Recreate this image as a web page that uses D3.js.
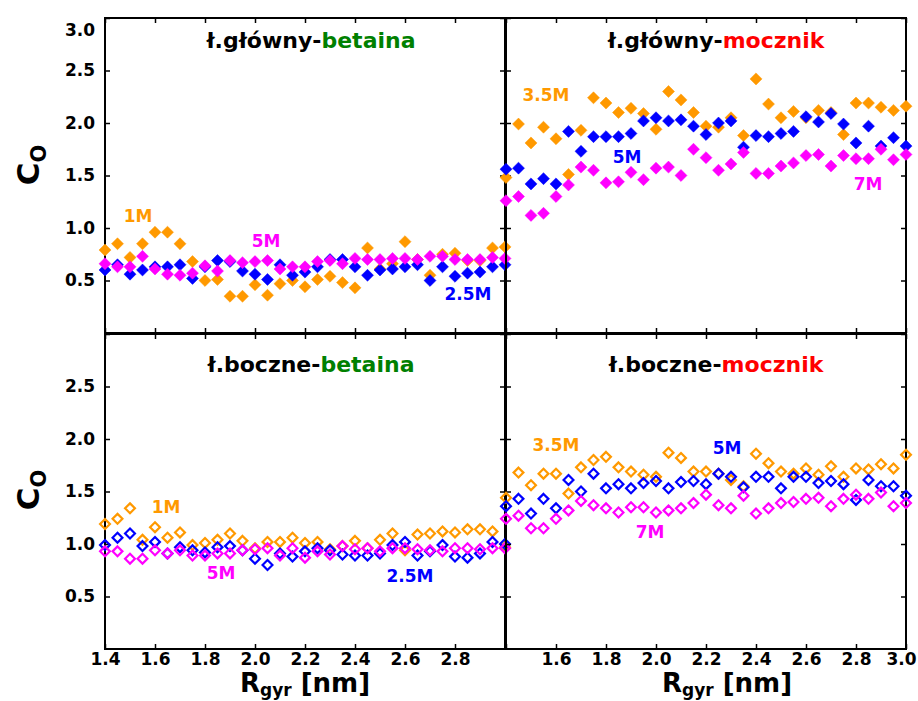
<!DOCTYPE html>
<html>
<head>
<meta charset="utf-8">
<script src="https://cdn.jsdelivr.net/npm/d3@7"></script>
<style>
body{margin:0;background:#fff;}
svg{display:block;font-family:"DejaVu Sans",sans-serif;font-weight:bold;}
</style>
</head>
<body>
<svg id="chart" width="918" height="701"></svg>
<script>
const rgyr = [1.40,1.45,1.50,1.55,1.60,1.65,1.70,1.75,1.80,1.85,1.90,1.95,2.00,2.05,2.10,2.15,2.20,2.25,2.30,2.35,2.40,2.45,2.50,2.55,2.60,2.65,2.70,2.75,2.80,2.85,2.90,2.95,3.00];

// ł.główny-betaina
const glBetOrange  = [0.79,0.85,0.72,0.85,0.96,0.96,0.85,0.68,0.50,0.51,0.35,0.35,0.46,0.36,0.47,0.50,0.44,0.51,0.54,0.48,0.43,0.81,0.61,0.66,0.87,0.70,0.55,0.75,0.76,0.69,0.69,0.81,0.82];
const glBetBlue    = [0.60,0.65,0.56,0.60,0.63,0.63,0.65,0.52,0.63,0.69,0.68,0.59,0.56,0.51,0.65,0.55,0.58,0.63,0.70,0.70,0.63,0.55,0.60,0.61,0.63,0.65,0.50,0.63,0.54,0.57,0.58,0.63,0.65];
const glBetMagenta = [0.66,0.63,0.63,0.73,0.61,0.56,0.55,0.57,0.64,0.59,0.69,0.67,0.68,0.69,0.61,0.63,0.63,0.68,0.69,0.66,0.71,0.70,0.70,0.71,0.71,0.70,0.73,0.73,0.70,0.70,0.70,0.72,0.71];

// ł.główny-mocznik
const glMocOrange  = [1.48,1.99,1.81,1.96,1.85,1.51,1.93,2.24,2.19,2.10,2.14,2.09,1.94,2.30,2.22,2.10,1.97,1.96,2.05,1.88,2.42,2.18,2.05,2.11,2.05,2.12,2.10,1.89,2.19,2.19,2.15,2.12,2.16];
const glMocBlue    = [1.56,1.57,1.42,1.47,1.42,1.92,1.73,1.87,1.87,1.87,1.90,2.02,2.05,2.02,2.03,1.97,1.89,2.00,2.02,1.77,1.88,1.87,1.90,1.92,2.06,2.01,2.09,1.99,1.81,1.97,1.78,1.86,1.78];
const glMocMagenta = [1.26,1.30,1.12,1.14,1.30,1.41,1.58,1.55,1.43,1.44,1.53,1.46,1.57,1.58,1.50,1.75,1.67,1.55,1.61,1.72,1.52,1.52,1.59,1.62,1.69,1.70,1.59,1.69,1.66,1.66,1.75,1.65,1.70];

// ł.boczne-betaina
const bcBetOrange  = [1.19,1.24,1.34,1.04,1.16,1.06,1.11,0.99,1.01,1.04,1.10,1.03,0.96,1.02,1.02,1.06,1.01,1.02,0.95,0.98,1.03,0.96,1.04,1.10,0.94,1.09,1.10,1.12,1.11,1.14,1.14,1.12,0.97];
const bcBetBlue    = [0.99,1.06,1.10,0.98,1.02,0.91,0.97,0.94,0.92,0.97,0.98,0.94,0.86,0.80,0.91,0.88,0.93,0.96,0.94,0.90,0.89,0.89,0.91,0.99,1.02,0.89,0.93,0.99,0.88,0.87,0.91,1.02,1.00];
const bcBetMagenta = [0.93,0.93,0.86,0.86,0.94,0.91,0.94,0.89,0.89,0.91,0.91,0.94,0.95,0.96,0.89,0.96,0.87,0.93,0.90,0.98,0.95,0.96,0.93,0.96,0.96,0.95,0.94,0.93,0.96,0.96,0.95,0.96,0.96];

// ł.boczne-mocznik
const bcMocOrange  = [1.44,1.68,1.56,1.67,1.67,1.48,1.73,1.80,1.83,1.73,1.69,1.66,1.64,1.87,1.82,1.69,1.69,1.67,1.61,1.55,1.86,1.77,1.69,1.67,1.72,1.66,1.74,1.64,1.72,1.71,1.76,1.72,1.85];
const bcMocBlue    = [1.36,1.43,1.29,1.43,1.34,1.61,1.50,1.67,1.53,1.57,1.53,1.58,1.60,1.53,1.59,1.60,1.57,1.67,1.64,1.54,1.64,1.64,1.53,1.64,1.64,1.58,1.60,1.57,1.42,1.61,1.55,1.55,1.46];
const bcMocMagenta = [1.24,1.27,1.15,1.15,1.24,1.32,1.41,1.37,1.34,1.30,1.35,1.35,1.30,1.32,1.34,1.39,1.47,1.37,1.34,1.46,1.29,1.34,1.39,1.40,1.43,1.44,1.36,1.43,1.47,1.43,1.49,1.36,1.39];

const xTicks = [1.4,1.6,1.8,2.0,2.2,2.4,2.6,2.8,3.0];
const yTicks = [0.5,1.0,1.5,2.0,2.5,3.0];

const colors = {orange:"#ff9900", blue:"#0000ff", magenta:"#ff00ff"};

const panels = [
  {x0:105, x1:505, y0:18, y1:333, filled:true, title:["ł.główny-","betaina","#008000"], tx:311, ty:48,
   series:[glBetOrange,glBetBlue,glBetMagenta],
   labels:[["1M","orange",138,222],["5M","magenta",266,247],["2.5M","blue",468,300]],
   xLab:false, yLab:true, yVals:[0.5,1.0,1.5,2.0,2.5,3.0]},
  {x0:506, x1:906, y0:18, y1:333, filled:true, title:["ł.główny-","mocznik","#ff0000"], tx:716, ty:48,
   series:[glMocOrange,glMocBlue,glMocMagenta],
   labels:[["3.5M","orange",546,101],["5M","blue",627,163],["7M","magenta",868,190]],
   xLab:false, yLab:false},
  {x0:105, x1:505, y0:334, y1:649, filled:false, title:["ł.boczne-","betaina","#008000"], tx:311, ty:372,
   series:[bcBetOrange,bcBetBlue,bcBetMagenta],
   labels:[["1M","orange",166,513],["5M","magenta",221,579],["2.5M","blue",410,582]],
   xLab:true, xVals:[1.4,1.6,1.8,2.0,2.2,2.4,2.6,2.8], yLab:true, yVals:[0.5,1.0,1.5,2.0,2.5]},
  {x0:506, x1:906, y0:334, y1:649, filled:false, title:["ł.boczne-","mocznik","#ff0000"], tx:716, ty:372,
   series:[bcMocOrange,bcMocBlue,bcMocMagenta],
   labels:[["3.5M","orange",556,451],["5M","blue",727,454],["7M","magenta",650,538]],
   xLab:true, xVals:[1.6,1.8,2.0,2.2,2.4,2.6,2.8,3.0], yLab:false}
];

const svg = d3.select("#chart");
const fmt = d3.format(".1f");
const seriesColors = [colors.orange, colors.blue, colors.magenta];
const diamond = d3.symbol().type(d3.symbolDiamond2);

panels.forEach(p => {
  const x = d3.scaleLinear().domain([1.4,3.0]).range([p.x0,p.x1]);
  const y = d3.scaleLinear().domain([0,3]).range([p.y1,p.y0]);
  const g = svg.append("g");

  // ticks (inward on all four sides)
  const tickLen = 5;
  const bottomAxis = d3.axisBottom(x).tickValues(xTicks).tickSizeInner(-tickLen).tickSizeOuter(0).tickPadding(4)
      .tickFormat(d => (p.xLab && p.xVals.some(v => Math.abs(v-d)<1e-6)) ? fmt(d) : "");
  const ba = g.append("g").attr("transform",`translate(0,${p.y1})`).call(bottomAxis);
  const topAxis = d3.axisTop(x).tickValues(xTicks).tickSizeInner(-tickLen).tickSizeOuter(0).tickFormat("");
  const ta = g.append("g").attr("transform",`translate(0,${p.y0})`).call(topAxis);
  const leftAxis = d3.axisLeft(y).tickValues(yTicks).tickSizeInner(-tickLen).tickSizeOuter(0).tickPadding(10)
      .tickFormat(d => (p.yLab && p.yVals.some(v => Math.abs(v-d)<1e-6)) ? fmt(d) : "");
  const la = g.append("g").attr("transform",`translate(${p.x0},0)`).call(leftAxis);
  const rightAxis = d3.axisRight(y).tickValues(yTicks).tickSizeInner(-tickLen).tickSizeOuter(0).tickFormat("");
  const ra = g.append("g").attr("transform",`translate(${p.x1},0)`).call(rightAxis);
  [ba,ta,la,ra].forEach(a => {
    a.select(".domain").remove();
    a.selectAll(".tick line").attr("stroke","#000").attr("stroke-width",1.5);
    a.selectAll(".tick text").attr("fill","#000").style("font-family","DejaVu Sans").style("font-weight","bold").style("font-size","17px");
  });
  // keep edge labels inside the picture
  la.selectAll(".tick text").filter(d => Math.abs(d-3.0)<1e-6).attr("dy","1.05em");
  ba.selectAll(".tick text").filter(d => Math.abs(d-3.0)<1e-6).attr("dx","-5");

  // frame
  g.append("rect").attr("x",p.x0).attr("y",p.y0).attr("width",p.x1-p.x0).attr("height",p.y1-p.y0)
    .attr("fill","none").attr("stroke","#000").attr("stroke-width",2);

  // points
  p.series.forEach((vals, si) => {
    const c = seriesColors[si];
    g.append("g").selectAll("path").data(vals).join("path")
      .attr("transform",(v,i) => `translate(${x(rgyr[i])},${y(v)})`)
      .attr("d", p.filled ? diamond.size(92)() : diamond.size(62)())
      .attr("fill", p.filled ? c : "none")
      .attr("stroke", c)
      .attr("stroke-width", p.filled ? 0.5 : 2.2);
  });

  // title
  const t = g.append("text").attr("x",p.tx).attr("y",p.ty).attr("text-anchor","middle")
    .style("font-size","22px");
  t.append("tspan").attr("fill","#000").text(p.title[0]);
  t.append("tspan").attr("fill",p.title[2]).text(p.title[1]);

  // series labels
  p.labels.forEach(l => {
    g.append("text").attr("x",l[2]).attr("y",l[3]).attr("text-anchor","middle")
      .attr("fill",colors[l[1]]).style("font-size","17px").text(l[0]);
  });
});

// y axis titles
[165,490].forEach(cy => {
  const t = svg.append("text").attr("transform",`translate(39,${cy}) rotate(-90)`)
    .attr("text-anchor","middle").style("font-size","31px");
  t.append("tspan").text("C");
  t.append("tspan").attr("dy","7").style("font-size","21px").text("O");
});

// x axis titles
[305,727].forEach(cx => {
  const t = svg.append("text").attr("x",cx).attr("y",692).attr("text-anchor","middle").style("font-size","26px");
  t.append("tspan").text("R");
  t.append("tspan").attr("dy","4").style("font-size","17px").text("gyr");
  t.append("tspan").attr("dy","-4").text(" [nm]");
});
</script>
</body>
</html>
